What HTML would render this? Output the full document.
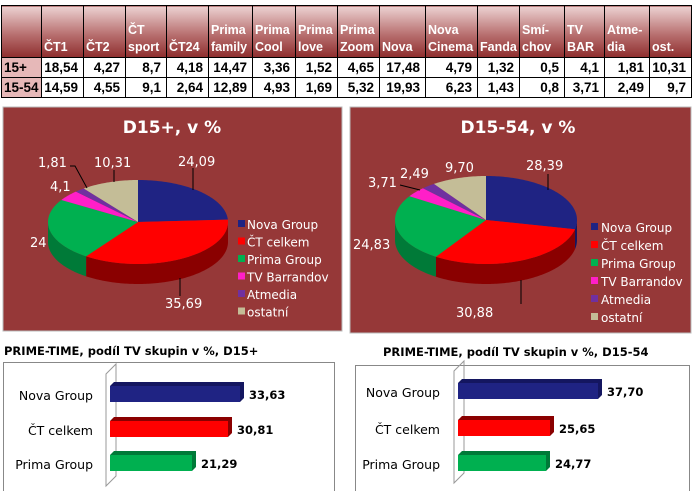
<!DOCTYPE html>
<html><head><meta charset="utf-8"><style>
body{margin:0;width:696px;height:491px;background:#fff;overflow:hidden;font-family:"DejaVu Sans","Liberation Sans",sans-serif;position:relative}
table{position:absolute;left:1px;top:5px;border-collapse:collapse;font-size:12.5px;font-weight:bold;table-layout:fixed;width:690px;font-family:"Liberation Sans",sans-serif}
td{border:1px solid #000;padding:0 2px;box-sizing:border-box;white-space:nowrap;overflow:hidden}
tr.h td{height:52px;vertical-align:bottom;color:#fff;background:linear-gradient(#ecd2d2,#b87070 55%,#8e2e2e);font-size:12.5px;line-height:17px;padding-bottom:1px}
tr.d td{height:20px;text-align:right;color:#000;padding-right:5px;font-size:13.5px}
tr.d td:first-child{text-align:left;background:#e6b8b8;padding-left:2px}
</style></head><body>
<table>
<colgroup><col style="width:40px"><col style="width:42px"><col style="width:42px"><col style="width:41px"><col style="width:42px"><col style="width:44px"><col style="width:43px"><col style="width:42px"><col style="width:42px"><col style="width:46px"><col style="width:52px"><col style="width:42px"><col style="width:45px"><col style="width:40px"><col style="width:45px"><col style="width:42px"></colgroup>
<tr class="h"><td></td><td>ČT1</td><td>ČT2</td><td>ČT<br>sport</td><td>ČT24</td><td>Prima<br>family</td><td>Prima<br>Cool</td><td>Prima<br>love</td><td>Prima<br>Zoom</td><td>Nova</td><td>Nova<br>Cinema</td><td>Fanda</td><td>Smí-<br>chov</td><td>TV<br>BAR</td><td>Atme-<br>dia</td><td>ost.</td></tr>
<tr class="d"><td>15+</td><td>18,54</td><td>4,27</td><td>8,7</td><td>4,18</td><td>14,47</td><td>3,36</td><td>1,52</td><td>4,65</td><td>17,48</td><td>4,79</td><td>1,32</td><td>0,5</td><td>4,1</td><td>1,81</td><td>10,31</td></tr>
<tr class="d"><td>15-54</td><td>14,59</td><td>4,55</td><td>9,1</td><td>2,64</td><td>12,89</td><td>4,93</td><td>1,69</td><td>5,32</td><td>19,93</td><td>6,23</td><td>1,43</td><td>0,8</td><td>3,71</td><td>2,49</td><td>9,7</td></tr>
</table>
<svg id="s" width="696" height="491" style="position:absolute;left:0;top:0" font-family="DejaVu Sans, Liberation Sans, sans-serif">
<rect x="3" y="107" width="339" height="224" fill="#963838" stroke="#bbb"/>
<rect x="350" y="107" width="341" height="226" fill="#963838" stroke="#bbb"/>
<text x="172" y="133" fill="#fff" font-size="17" font-weight="bold" text-anchor="middle">D15+, v %</text>
<text x="518" y="133" fill="#fff" font-size="17" font-weight="bold" text-anchor="middle">D15-54, v %</text>
<g id="p1"></g><g id="p2"></g>
<g fill="#fff" font-size="13">
<text x="178" y="166">24,09</text><text x="165" y="308">35,69</text><text x="30" y="247">24</text><text x="50" y="191">4,1</text><text x="38" y="167">1,81</text><text x="94" y="167">10,31</text>
<text x="526" y="170">28,39</text><text x="456" y="317">30,88</text><text x="353" y="249">24,83</text><text x="368" y="187">3,71</text><text x="400" y="178">2,49</text><text x="445" y="172">9,70</text>
</g>
<g stroke="#000" stroke-width="1" fill="none">
<polyline points="193,168 193,190"/><polyline points="180,278 180,296"/><polyline points="70,166 75,166 87,188"/><polyline points="114,170 114,182"/>
<polyline points="548,174 548,190"/><polyline points="521,280 521,304"/><polyline points="400,185 420,190"/>
</g>
<g font-size="12" fill="#fff" id="lg"></g>
<text x="4" y="355" font-size="11.5" font-weight="bold">PRIME-TIME, podíl TV skupin v %, D15+</text>
<text x="383" y="356" font-size="11.5" font-weight="bold">PRIME-TIME, podíl TV skupin v %, D15-54</text>
<rect x="3.5" y="362.5" width="331" height="130" fill="none" stroke="#888"/>
<rect x="355.5" y="365.5" width="334" height="130" fill="none" stroke="#888"/>
<g id="bars"></g>
</svg>
<script>
const NS="http://www.w3.org/2000/svg";
function el(p,t,a,txt){const e=document.createElementNS(NS,t);for(const k in a)e.setAttribute(k,a[k]);if(txt)e.textContent=txt;p.appendChild(e);return e;}
const cols=["#1f2383","#ff0000","#00b050","#ff1fc8","#7030a0","#c4bd97"];
const side=["#141660","#8a0000","#007a38","#b0108c","#4a1f70","#8e8866"];
function pie(g,cx,cy,rx,ry,d,vals){
 const tot=vals.reduce((a,b)=>a+b,0);let a=0;const sl=[];
 vals.forEach((v,i)=>{const b=a+v/tot*360;sl.push([a,b,i]);a=b;});
 const P=(t,dy)=>{const r=t*Math.PI/180;return [cx+rx*Math.sin(r),cy-ry*Math.cos(r)+(dy||0)];};
 sl.forEach(([a,b,i])=>{const s=Math.max(a,90),e=Math.min(b,270);if(e<=s)return;
  let p="M"+P(s)+" ";for(let t=s;t<=e;t+=1)p+="L"+P(t)+" ";p+="L"+P(e)+" L"+P(e,d)+" ";for(let t=e;t>=s;t-=1)p+="L"+P(t,d)+" ";p+="L"+P(s,d)+"Z";
  el(g,"path",{d:p,fill:side[i]});});
 sl.forEach(([a,b,i])=>{let p="M"+cx+","+cy+" L"+P(a)+" ";for(let t=a;t<b;t+=1)p+="L"+P(t)+" ";p+="L"+P(b)+"Z";el(g,"path",{d:p,fill:cols[i]});});
}
pie(document.getElementById("p1"),138,222,90,42,20,[24.09,35.69,24,4.1,1.81,10.31]);
pie(document.getElementById("p2"),486,220,91,44,20,[28.39,30.88,24.83,3.71,2.49,9.70]);
const names=["Nova Group","ČT celkem","Prima Group","TV Barrandov","Atmedia","ostatní"];
const lg=document.getElementById("lg");
names.forEach((n,i)=>{el(lg,"rect",{x:238,y:220+i*17.5,width:7,height:7,fill:cols[i]});el(lg,"text",{x:247,y:229+i*17.5},n);
 el(lg,"rect",{x:591,y:223+i*18,width:7,height:7,fill:cols[i]});el(lg,"text",{x:601,y:232+i*18},n);});
const bg=document.getElementById("bars");
function bars(x0,ax,lx,ys,ends,labs){
 el(bg,"path",{d:`M${ax},${ys[0]-12} l10,-10 v112 l-10,10 z`,fill:"none",stroke:"#999"});
 ys.forEach((y,i)=>{const e=ends[i];
  el(bg,"path",{d:`M${x0},${y} l4,-4 h${e-x0} v16 l-4,4 z`,fill:side[i]});
  el(bg,"rect",{x:x0,y:y,width:e-x0,height:16,fill:cols[i]});
  el(bg,"text",{x:e+9,y:y+13,"font-size":"11.5","font-weight":"bold"},labs[i]);
  el(bg,"text",{x:lx,y:y+14,"font-size":"12.5","text-anchor":"end"},names[i]);});
}
bars(110,106,93,[386,421,455],[240,228,192],["33,63","30,81","21,29"]);
bars(458,454,440,[383,420,455],[598,550,546],["37,70","25,65","24,77"]);
</script>
</body></html>
